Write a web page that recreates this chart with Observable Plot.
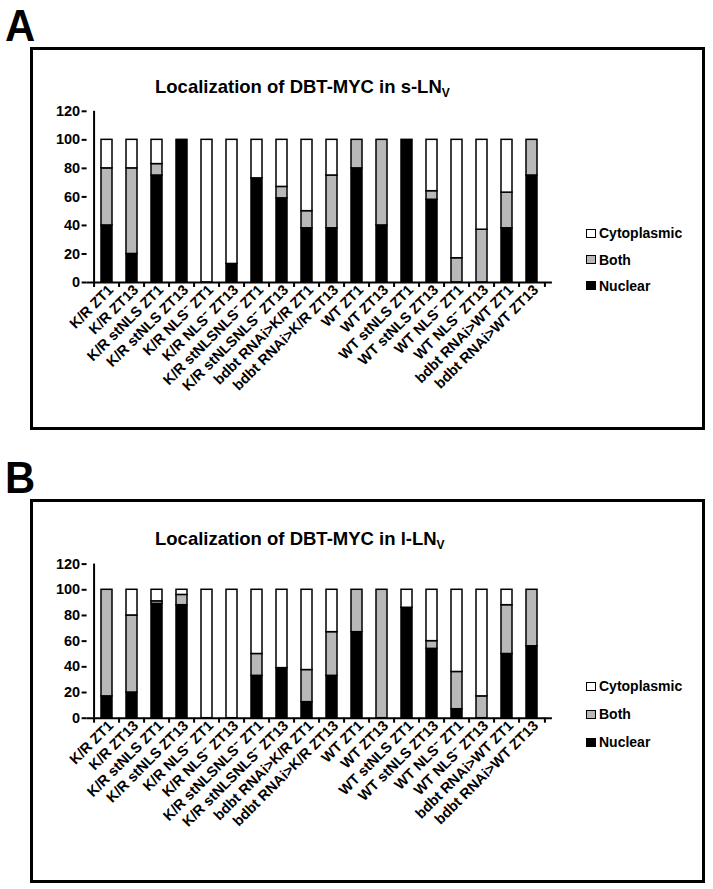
<!DOCTYPE html>
<html><head><meta charset="utf-8">
<script src="https://cdn.jsdelivr.net/npm/d3@7"></script>
<script src="https://cdn.jsdelivr.net/npm/@observablehq/plot@0.6"></script>
<style>
body{margin:0;background:#fff;font-family:"Liberation Sans",Arial,sans-serif;color:#000}
#fig{position:relative;width:713px;height:889px;overflow:hidden;background:#fff}
.letter{position:absolute;font-weight:bold;font-size:44px;line-height:44px;transform-origin:left top;transform:scaleX(0.95)}
.box{position:absolute;border:3px solid #000;box-sizing:border-box;pointer-events:none}
.title{position:absolute;font-weight:bold;font-size:18.5px;line-height:18px;white-space:nowrap}
.title sub{font-size:12px;vertical-align:-4px;line-height:0}
.leg{position:absolute;left:586px;height:16px;display:flex;align-items:center;font-weight:bold;font-size:14px;white-space:nowrap}
.leg .sw{width:10px;height:9px;border:1.5px solid #000;box-sizing:border-box;margin-right:3px}
.plot{position:absolute;left:0}
</style>
</head><body>
<div id="fig">
  <div class="letter" style="left:5px;top:4px">A</div>
  <div class="letter" style="left:5px;top:456px">B</div>
  <div id="plotA" class="plot" style="top:48px"></div>
  <div id="plotB" class="plot" style="top:500px"></div>
  <div class="box" style="left:30px;top:46.5px;width:675px;height:383px"></div>
  <div class="box" style="left:30px;top:498.5px;width:675px;height:384px"></div>
  <div class="title" style="left:155px;top:78px">Localization of DBT-MYC in s-LN<sub>V</sub></div>
  <div class="title" style="left:155px;top:530px">Localization of DBT-MYC in l-LN<sub>V</sub></div>
  <div id="legA"></div>
  <div id="legB"></div>
</div>
<script>
// ---- data ----
const categories = [
  "K/R ZT1", "K/R ZT13", "K/R stNLS ZT1", "K/R stNLS ZT13",
  "K/R NLS\u207B ZT1", "K/R NLS\u207B ZT13", "K/R stNLSNLS\u207B ZT1", "K/R stNLSNLS\u207B ZT13",
  "bdbt RNAi>K/R ZT1", "bdbt RNAi>K/R ZT13", "WT ZT1", "WT ZT13",
  "WT stNLS ZT1", "WT stNLS ZT13", "WT NLS\u207B ZT1", "WT NLS\u207B ZT13",
  "bdbt RNAi>WT ZT1", "bdbt RNAi>WT ZT13"
];
const seriesNames = ["Nuclear", "Both", "Cytoplasmic"];
const legendOrder = ["Cytoplasmic", "Both", "Nuclear"];
const seriesColors = ["#000000", "#b8b8b8", "#ffffff"];
const yTicks = [0, 20, 40, 60, 80, 100, 120];

// s-LNv (panel A), percent of cells
const sNuclear     = [40, 20, 75, 100, 0, 13, 73, 59, 38, 38, 80, 40, 100, 58, 0, 0, 38, 75];
const sBoth        = [40, 60, 8, 0, 0, 0, 0, 8, 12, 37, 20, 60, 0, 6, 17, 37, 25, 25];
const sCytoplasmic = [20, 20, 17, 0, 100, 87, 27, 33, 50, 25, 0, 0, 0, 36, 83, 63, 37, 0];

// l-LNv (panel B), percent of cells
const lNuclear     = [17, 20, 89, 88, 0, 0, 33, 39, 12.5, 33, 67, 0, 86, 54, 7, 0, 50, 56];
const lBoth        = [83, 60, 2, 8, 0, 0, 17, 0, 25, 34, 33, 100, 0, 6, 29, 17, 38, 44];
const lCytoplasmic = [0, 20, 9, 4, 100, 100, 50, 61, 62.5, 33, 0, 0, 14, 40, 64, 83, 12, 0];

// ---- drawing ----
function makePlot(nuc, both, cyto, marginTop, marginBottom) {
  const rows = [];
  categories.forEach((c, i) => {
    const vals = [nuc[i], both[i], cyto[i]];
    seriesNames.forEach((s, j) => { if (vals[j] > 0) rows.push({cat: c, series: s, value: vals[j]}); });
  });
  const W = 713, H = 380, mL = 86.6, mR = 161.1;
  const step = (W - mL - mR) / categories.length;
  return Plot.plot({
    width: W, height: H,
    marginLeft: mL, marginRight: mR, marginTop, marginBottom,
    style: {background: "transparent", overflow: "visible", fontFamily: "'Liberation Sans', Arial, sans-serif", fontWeight: "bold", color: "#000"},
    x: {domain: categories, paddingInner: 0.575, paddingOuter: 0.2875, label: null},
    y: {domain: [0, 120], label: null},
    color: {domain: seriesNames, range: seriesColors},
    marks: [
      Plot.barY(rows, Plot.stackY({order: seriesNames}, {x: "cat", y: "value", fill: "series", stroke: "#000", strokeWidth: 1.5})),
      Plot.ruleY([0], {strokeWidth: 2}),
      Plot.ruleX([categories[0]], {x: d => d, y1: 0, y2: 120, dx: -step / 2, strokeWidth: 2}),
      Plot.axisY({ticks: yTicks, tickSize: 5, tickPadding: 2, fontSize: 14.5, strokeWidth: 2, label: null}),
      Plot.axisX({tickSize: 5, tickFormat: () => "", dx: -step / 2, strokeWidth: 2, label: null}),
      Plot.axisX({ticks: [categories[categories.length - 1]], tickSize: 5, tickFormat: () => "", dx: step / 2, strokeWidth: 2, label: null}),
      Plot.axisX({tickSize: 0, tickRotate: -45, tickPadding: 5, fontSize: 14.5, dx: 4, label: null})
    ]
  });
}

document.getElementById("plotA").append(makePlot(sNuclear, sBoth, sCytoplasmic, 62.8, 146));
document.getElementById("plotB").append(makePlot(lNuclear, lBoth, lCytoplasmic, 63.6, 162.3));

function legend(el, centers) {
  legendOrder.forEach((s, k) => {
    const d = document.createElement("div");
    d.className = "leg";
    d.style.top = (centers[k] - 8) + "px";
    const sw = document.createElement("span");
    sw.className = "sw";
    sw.style.background = seriesColors[seriesNames.indexOf(s)];
    d.append(sw, document.createTextNode(s));
    el.append(d);
  });
}
legend(document.getElementById("legA"), [233, 259.5, 285.5]);
legend(document.getElementById("legB"), [686, 714, 742]);
</script>
</body></html>
